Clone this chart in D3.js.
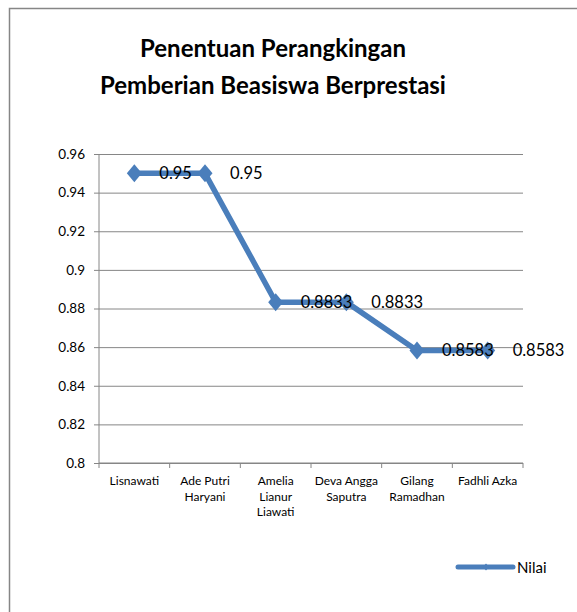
<!DOCTYPE html>
<html>
<head>
<meta charset="utf-8">
<script src="https://cdn.jsdelivr.net/npm/d3@7"></script>
<style>
body { margin:0; background:#fff; }
svg { font-family: Lato, "Open Sans", sans-serif; }
.axis line, .axis path { stroke:#868686; }
</style>
</head>
<body>
<div id="chart"></div>
<script>
var names = [["Lisnawati"], ["Ade Putri","Haryani"], ["Amelia","Lianur","Liawati"], ["Deva Angga","Saputra"], ["Gilang","Ramadhan"], ["Fadhli Azka"]];
var nilai = [0.95, 0.95, 0.8833, 0.8833, 0.8583, 0.8583];
var yTicks = [0.8, 0.82, 0.84, 0.86, 0.88, 0.9, 0.92, 0.94, 0.96];
var titleLines = ["Penentuan Perangkingan", "Pemberian Beasiswa Berprestasi"];

var W = 577, H = 612;
var pad = {l:99, r:54, t:154, b:149};
var blue = "#4a7ebb";

var svg = d3.select('#chart').append('svg')
			.attr('width', W)
			.attr('height', H);

// outer chart frame (only top & left show in the picture)
svg.append('rect')
	.attr('x', 9.5).attr('y', 8.5)
	.attr('width', 600).attr('height', 640)
	.attr('fill', 'none')
	.attr('stroke', '#868686')
	.attr('stroke-width', 1.5);

svg.append('g').selectAll('text')
	.data(titleLines)
	.enter()
	.append('text')
		.attr('x', 273)
		.attr('y', (d,i)=>57 + i*37)
		.attr('text-anchor', 'middle')
		.attr('font-weight', 'bold')
		.attr('font-size', 24)
		.text(d=>d);

var x_scale = d3.scaleBand()
				.domain(d3.range(names.length))
				.range([pad.l, W-pad.r]);

var y_scale = d3.scaleLinear()
				.domain([0.8, 0.96])
				.range([H-pad.b, pad.t]);

// gridlines
svg.append('g')
		.attr('class', 'axis grid')
		.attr('transform', 'translate('+pad.l+',0)')
	.call(d3.axisLeft(y_scale).tickValues(yTicks).tickSize(-(W-pad.r-pad.l)).tickFormat(''))
	.call(g=>g.select('.domain').remove());

var y_axis = d3.axisLeft(y_scale)
				.tickValues(yTicks)
				.tickSize(5)
				.tickPadding(9)
				.tickFormat(d=>String(+d.toFixed(2)));

svg.append('g')
		.attr('class', 'axis y')
		.attr('transform', 'translate('+pad.l+',0)')
	.call(y_axis)
	.call(g=>g.select('.domain').attr('d', 'M0,'+pad.t+'V'+(H-pad.b)))
	.call(g=>g.selectAll('text').attr('font-size', 13.5).attr('fill', '#000').attr('font-family', 'Lato, sans-serif'));

// x axis with ticks at category boundaries
var bounds = d3.range(names.length+1).map(i=>pad.l + i*x_scale.bandwidth());
var xg = svg.append('g').attr('class', 'axis x');
xg.append('line')
	.attr('x1', pad.l).attr('x2', W-pad.r)
	.attr('y1', H-pad.b).attr('y2', H-pad.b);
xg.selectAll('line.tk')
	.data(bounds)
	.enter()
	.append('line')
		.attr('class', 'tk')
		.attr('x1', d=>d).attr('x2', d=>d)
		.attr('y1', H-pad.b).attr('y2', H-pad.b+5);

xg.selectAll('text')
	.data(names)
	.enter()
	.append('text')
		.attr('text-anchor', 'middle')
		.attr('font-size', 12)
		.attr('transform', (d,i)=>'translate('+(x_scale(i)+x_scale.bandwidth()/2)+','+(H-pad.b+22)+')')
		.selectAll('tspan')
		.data(d=>d)
		.enter()
		.append('tspan')
			.attr('x', 0)
			.attr('dy', (d,i)=>i ? 15.5 : 0)
			.text(d=>d);

var line = d3.line()
			.x((d,i)=>x_scale(i)+x_scale.bandwidth()/2)
			.y(d=>y_scale(d));

svg.append('path')
	.datum(nilai)
	.attr('fill', 'none')
	.attr('stroke', blue)
	.attr('stroke-width', 5.5)
	.attr('stroke-linejoin', 'round')
	.attr('d', line);

var diamond = 'M0,-9L7.5,0L0,9L-7.5,0Z';
svg.append('g').selectAll('path')
	.data(nilai)
	.enter()
	.append('path')
		.attr('d', diamond)
		.attr('fill', blue)
		.attr('transform', (d,i)=>'translate('+(x_scale(i)+x_scale.bandwidth()/2)+','+y_scale(d)+')');

svg.append('g').selectAll('text')
	.data(nilai)
	.enter()
	.append('text')
		.attr('x', (d,i)=>x_scale(i)+x_scale.bandwidth()/2+25)
		.attr('y', d=>y_scale(d)+6)
		.attr('font-size', 16.5)
		.text(d=>String(d));

// legend
var lg = svg.append('g').attr('transform', 'translate(458,567)');
lg.append('line')
	.attr('x1', 0).attr('x2', 55)
	.attr('stroke', blue).attr('stroke-width', 5).attr('stroke-linecap', 'round');
lg.append('path')
	.attr('d', 'M0,-3.5L3,0L0,3.5L-3,0Z')
	.attr('fill', blue)
	.attr('transform', 'translate(28,0)');
lg.append('text')
	.attr('x', 59).attr('y', 5.5)
	.attr('font-size', 15)
	.text('Nilai');
</script>
</body>
</html>
